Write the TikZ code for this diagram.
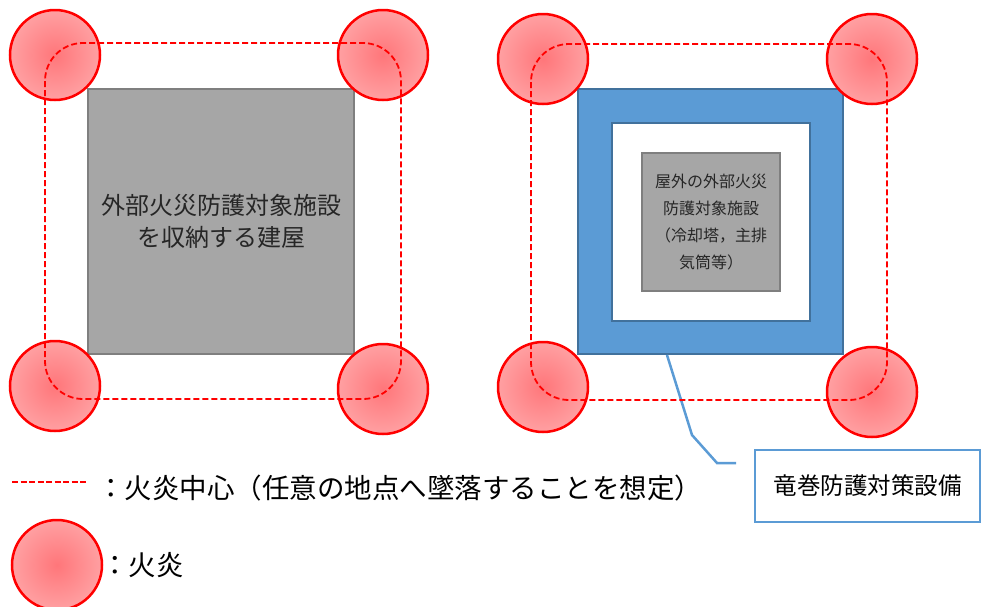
\documentclass[tikz,border=0pt]{standalone}
\usepackage{fontspec}
\setmainfont{Noto Sans CJK JP}
\definecolor{firein}{RGB}{255,118,122}
\definecolor{fireout}{RGB}{255,202,202}
\definecolor{fireline}{RGB}{255,0,0}
\definecolor{grayfill}{RGB}{166,166,166}
\definecolor{graybd}{RGB}{127,127,127}
\definecolor{bluefill}{RGB}{91,155,213}
\definecolor{bluebd}{RGB}{65,113,156}
\definecolor{txtdark}{RGB}{38,38,38}
\pgfdeclareradialshading{fireball}{\pgfpoint{0bp}{0bp}}{color(0bp)=(firein); color(50bp)=(fireout)}
\tikzset{
  fire/.style={circle, draw=fireline, line width=2.5pt, shading=fireball, minimum size=90pt, inner sep=0pt},
  zone/.style={draw=fireline, dash pattern=on 6pt off 3pt, line width=1.8pt, rounded corners=38pt},
  bldg/.style={draw=graybd, fill=grayfill, line width=2pt, inner sep=0pt, text=txtdark, align=center},
  guard/.style={draw=bluebd, fill=bluefill, line width=2pt, inner sep=0pt},
  gap/.style={draw=bluebd, fill=white, line width=2pt, inner sep=0pt},
  callbox/.style={draw=bluefill, line width=2.2pt, inner sep=0pt, fill=white},
  callline/.style={draw=bluefill, line width=2.5pt},
  legtext/.style={anchor=west, inner sep=0pt, text=black}
}
\begin{document}
\begin{tikzpicture}[x=1pt,y=-1pt]
\useasboundingbox (0,0) rectangle (982,606);
\clip (0,0) rectangle (982,606);
% left panel
\node[bldg, minimum width=266pt, minimum height=265pt, font=\fontsize{24}{32}\selectfont] (bldg) at (221,221.5) {外部火災防護対象施設\\を収納する建屋};
% right panel
\node[guard, minimum width=265pt, minimum height=265pt] (guard) at (710.5,221.5) {};
\node[gap, minimum width=198pt, minimum height=198pt] (gapbox) at (711,222) {};
\node[bldg, minimum width=138pt, minimum height=138pt, font=\fontsize{16}{26.7}\selectfont] (fac) at (711,222) {屋外の外部火災\\防護対象施設\\（冷却塔，主排\\気筒等）};
% callout
\node[callbox, minimum width=225pt, minimum height=72pt, font=\fontsize{23.5}{28}\selectfont] (cbox) at (867.5,486) {竜巻防護対策設備};
\coordinate (cend) at (736,463);
\draw[callline] (guard.south -| 667,0) -- (692,435) -- (717,463) -- (cend);
% fires
\node[fire] (f1) at (55,55) {};
\node[fire] (f2) at (383,55) {};
\node[fire] (f3) at (55,386) {};
\node[fire] (f4) at (383,389) {};
\node[fire] (f5) at (543,59) {};
\node[fire] (f6) at (872,59) {};
\node[fire] (f7) at (543,387) {};
\node[fire] (f8) at (872,392) {};
% fire centre zones
\draw[zone] (45,43) rectangle (401,399);
\draw[zone] (531,44) rectangle (887,400);
% legend
\coordinate (lgA) at (12,482);
\coordinate (lgB) at (87,482);
\draw[draw=fireline, dash pattern=on 6pt off 2.5pt, line width=2.5pt] (lgA) -- (lgB);
\node[legtext, font=\fontsize{27.5}{30}\selectfont] (lg1) at (97,488) {：火炎中心（任意の地点へ墜落することを想定）};
\node[fire] (lgfire) at (57,565) {};
\node[legtext, font=\fontsize{27.5}{30}\selectfont] (lg2) at (101,565) {：火炎};
\end{tikzpicture}
\end{document}
